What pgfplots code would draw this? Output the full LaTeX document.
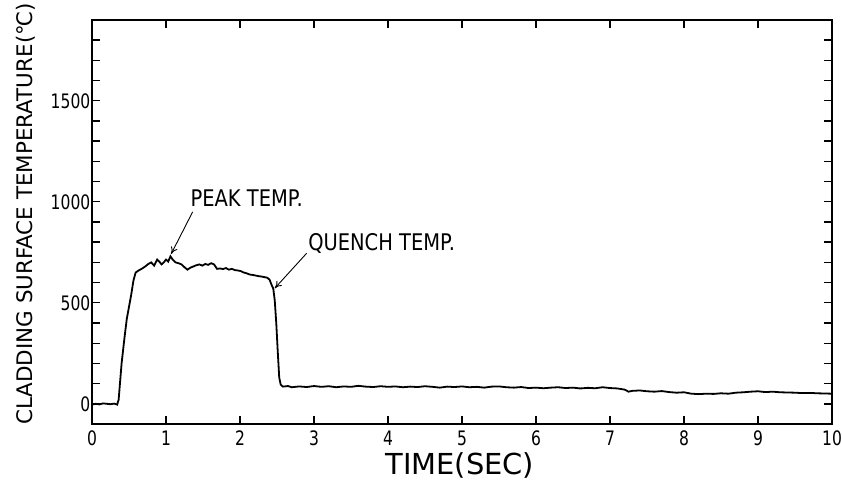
\documentclass[border=0pt]{standalone}
\usepackage{fontspec}
\usepackage{pgfplots}
\pgfplotsset{compat=1.18}
\usetikzlibrary{arrows.meta}
\setmainfont{DejaVu Sans}
\newfontfamily\narrowfont{DejaVu Sans}[FakeStretch=0.78]
\newfontfamily\notefont{DejaVu Sans}[FakeStretch=0.85]

\pgfplotstableread{
t T
0.00 -4
0.05 0
0.10 -3
0.15 2
0.20 0
0.25 -2
0.30 1
0.34 -4
0.36 20
0.40 200
0.44 330
0.47 420
0.50 480
0.53 540
0.56 610
0.59 650
0.63 660
0.67 668
0.72 680
0.76 692
0.80 700
0.84 684
0.88 714
0.91 704
0.94 690
0.97 700
1.00 714
1.03 704
1.06 730
1.09 714
1.13 700
1.17 696
1.21 690
1.25 676
1.29 664
1.33 674
1.37 680
1.41 686
1.45 690
1.49 684
1.53 692
1.57 688
1.61 696
1.65 690
1.69 668
1.73 670
1.77 667
1.81 672
1.85 664
1.89 668
1.93 662
1.97 660
2.01 657
2.05 650
2.09 646
2.13 640
2.17 638
2.21 635
2.25 632
2.29 630
2.33 627
2.37 624
2.40 614
2.43 586
2.45 570
2.47 510
2.49 400
2.51 260
2.53 130
2.55 95
2.58 85
2.65 88
2.70 82
2.80 86
2.90 83
3.00 88
3.10 84
3.20 87
3.30 82
3.40 86
3.50 84
3.60 89
3.70 85
3.80 83
3.90 87
4.00 84
4.10 86
4.20 82
4.30 85
4.40 83
4.50 87
4.60 84
4.70 80
4.80 85
4.90 83
5.00 86
5.10 82
5.20 84
5.30 80
5.40 85
5.50 86
5.60 82
5.70 80
5.80 83
5.90 78
6.00 80
6.10 77
6.20 80
6.30 82
6.40 78
6.50 80
6.60 76
6.70 79
6.80 77
6.90 82
7.00 78
7.10 76
7.20 70
7.25 60
7.30 64
7.40 66
7.50 62
7.60 60
7.70 63
7.80 58
7.90 55
8.00 57
8.10 50
8.20 48
8.30 50
8.40 49
8.50 52
8.60 50
8.70 55
8.80 57
8.90 60
9.00 62
9.10 58
9.20 60
9.30 57
9.40 56
9.50 55
9.60 53
9.70 54
9.80 52
9.90 51
10.00 50
}\curve

\begin{document}
\begin{tikzpicture}
\begin{axis}[
    name=ax,
    scale only axis,
    width=740bp, height=404bp,
    xmin=0, xmax=10, ymin=-100, ymax=1900,
    axis line style={line width=1.8bp},
    every tick/.style={line width=1.4bp, black},
    tick align=inside,
    major tick length=8bp, minor tick length=8bp,
    xtick={0,1,...,10},
    xticklabels={0,1,2,3,4,5,6,7,8,9,10},
    ytick={0,500,1000,1500},
    yticklabels={0,500,1000,1500},
    minor ytick={-100,0,...,1800},
    xtick pos=both, ytick pos=both,
    tick label style={font=\narrowfont\fontsize{20}{20}\selectfont},
    yticklabel style={inner sep=1.5bp},
    xticklabel style={inner sep=0pt, anchor=base, yshift=-21bp},
    xlabel={TIME(SEC)},
    ylabel={CLADDING SURFACE TEMPERATURE(℃)},
    label style={font=\fontsize{21.5}{21.5}\selectfont, inner sep=0pt},
    xlabel style={at={(axis description cs:0.497,-0.125)}, anchor=base, font=\fontsize{29}{29}\selectfont},
    ylabel style={at={(axis description cs:-0.09,0.52)}, anchor=center},
    clip=false,
]
\addplot[black, line width=1.8bp] table[x=t, y=T] {\curve};
\node[anchor=west, inner sep=0pt, font=\notefont\fontsize{23}{23}\selectfont] at (axis cs:1.33,1020) {PEAK TEMP.};
\draw[-{To[length=7bp,width=7bp]}, line width=0.9bp] (axis cs:1.36,950) -- (axis cs:1.07,742);
\node[anchor=west, inner sep=0pt, font=\notefont\fontsize{23}{23}\selectfont] at (axis cs:2.92,795) {QUENCH TEMP.};
\draw[-{To[length=7bp,width=7bp]}, line width=0.9bp] (axis cs:2.90,745) -- (axis cs:2.47,572);
\end{axis}
\path ([xshift=-92bp,yshift=-58bp]ax.south west) rectangle ([xshift=10bp,yshift=20bp]ax.north east);
\end{tikzpicture}
\end{document}
